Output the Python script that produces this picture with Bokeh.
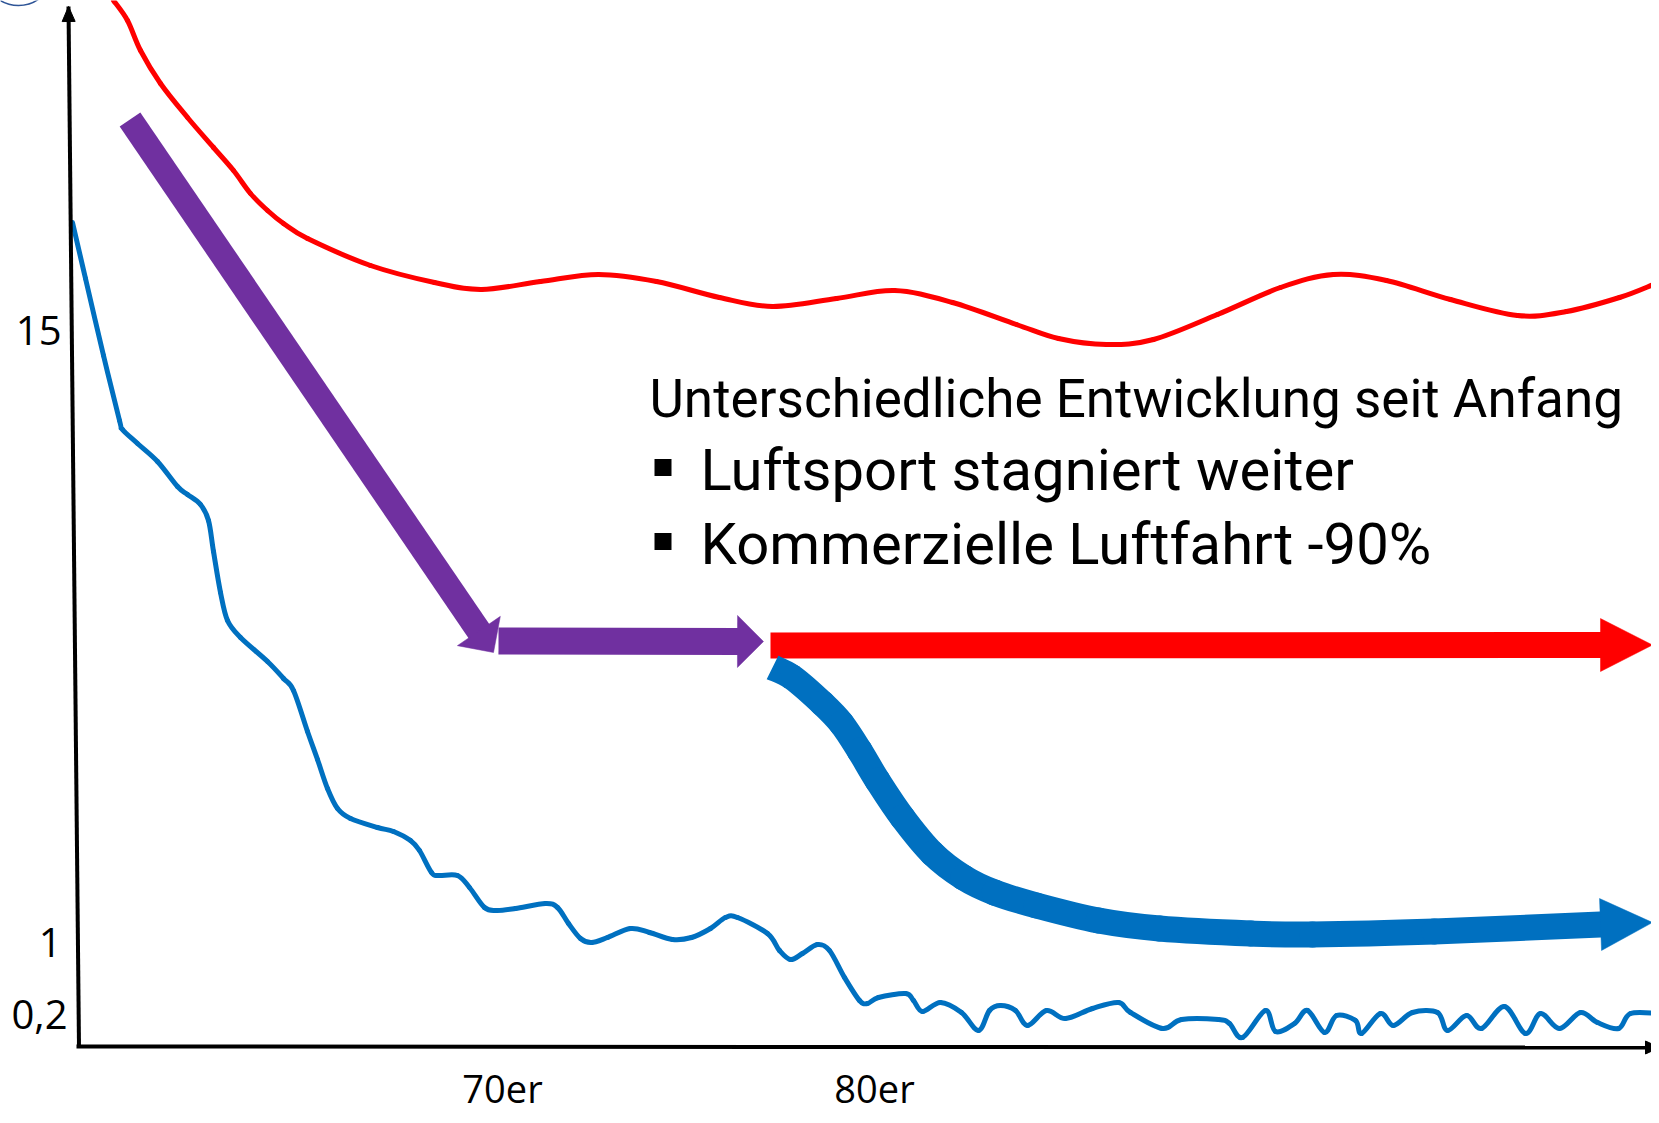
import math
from bokeh.plotting import figure
from bokeh.models import Range1d
from bokeh.core.properties import value
from bokeh.embed import file_html
from bokeh.resources import INLINE

# ---------------- data (schematic units: x to the right, y downward) ----------------
# Luftsport (thin red curve)
red_line_x = [113, 127, 140, 160, 187, 213, 233, 250, 267, 283, 307, 370, 434, 481, 540, 598,
              656, 719, 772, 836, 894, 952, 1016, 1058, 1106, 1153, 1217, 1280, 1333, 1386,
              1450, 1517, 1566, 1619, 1653]
red_line_y = [0, 20, 50, 83, 117, 147, 170, 193, 210, 223, 238, 265, 282, 289, 281, 274,
              281, 297, 306, 298, 290, 302, 324, 338, 344, 339, 314, 287, 274, 280,
              299, 315, 311, 297, 284]

# Kommerzielle Luftfahrt (thin blue curve)
blue_line_x = [72, 85, 103, 119, 122, 137, 157, 177, 187, 200, 208, 213, 220, 227, 240, 267,
               283, 293, 307, 317, 327, 337, 350, 377, 393, 410, 419, 431, 438, 457, 469,
               484, 496, 515, 545, 557, 568, 580, 591, 607, 630, 649, 672, 691, 710, 725,
               737, 767, 779, 790, 802, 817, 829, 844, 859, 867, 878, 905, 913, 922, 940,
               961, 978, 989, 1000, 1015, 1027, 1046, 1065, 1092, 1118, 1130, 1162, 1181,
               1218, 1229, 1242, 1265, 1275, 1294, 1307, 1324, 1336, 1355, 1361, 1380,
               1393, 1412, 1437, 1447, 1466, 1481, 1504, 1525, 1540, 1559, 1580, 1597,
               1618, 1630, 1658]
blue_line_y = [222, 278, 355, 420, 429, 443, 461, 486, 494, 504, 520, 551, 592, 620, 637, 661,
               678, 690, 731, 759, 788, 808, 818, 827, 831, 840, 850, 872, 875, 875, 887,
               907, 910, 908, 903, 907, 923, 938, 942, 937, 928, 932, 939, 937, 928, 917,
               917, 933, 950, 959, 953, 944, 950, 977, 1000, 1003, 997, 993, 1000, 1011, 1002,
               1012, 1030, 1010, 1005, 1010, 1025, 1010, 1018, 1008, 1002, 1012, 1028, 1019,
               1019, 1023, 1037, 1010, 1031, 1023, 1010, 1032, 1015, 1020, 1033, 1013,
               1025, 1012, 1012, 1030, 1015, 1028, 1006, 1033, 1013, 1028, 1012, 1022,
               1028, 1013, 1013]

# trend arrows
purple_drop_x = [129.5, 493]
purple_drop_y = [119, 652]
purple_flat_x = [498, 763]
purple_flat_y = [640.5, 641]
red_trend_x = [770, 1652]
red_trend_y = [645, 644.5]
blue_trend_x = [772, 792, 822, 841, 859, 877, 902, 932, 963, 994, 1036, 1098, 1159, 1250,
                1312, 1434, 1600, 1652]
blue_trend_y = [667, 677, 703, 723, 750, 780, 817, 853, 877, 892, 905, 920, 928, 933,
                934, 931, 924, 922]

# axes
y_axis_x = [78.5, 68]
y_axis_y = [1047, 6]
x_axis_x = [76, 1659]
x_axis_y = [1046, 1047]

y_tick_labels = ["15", "1", "0,2"]
y_tick_values = [330, 942, 1014]
x_tick_labels = ["70er", "80er"]
x_tick_values = [502, 874]

title_text = "Unterschiedliche Entwicklung seit Anfang"
bullet_texts = ["Luftsport stagniert weiter", "Kommerzielle Luftfahrt -90%"]

# ---------------- figure ----------------
W, H = 1651, 1115
p = figure(width=W, height=H, output_backend="svg", toolbar_location=None,
           x_range=Range1d(0, W), y_range=Range1d(H, 0),
           min_border=0, outline_line_color=None, background_fill_color="white",
           border_fill_color="white")
p.xaxis.visible = False
p.yaxis.visible = False
p.xgrid.visible = False
p.ygrid.visible = False

RED = "#FF0000"
BLUE = "#0070C0"
PURPLE = "#7030A0"


def head(tx, ty, dx, dy, length, width):
    n = math.hypot(dx, dy)
    ux, uy = dx / n, dy / n
    px, py = -uy, ux
    bx, by = tx - ux * length, ty - uy * length
    xs = [bx + px * width / 2, tx, bx - px * width / 2]
    ys = [by + py * width / 2, ty, by - py * width / 2]
    return xs, ys, bx, by


def smooth_segments(xs, ys):
    """Catmull-Rom through the read points, handed to Bokeh as cubic bezier segments."""
    n = len(xs)
    out = dict(x0=[], y0=[], x1=[], y1=[], cx0=[], cy0=[], cx1=[], cy1=[])
    for i in range(n - 1):
        a = i - 1 if i > 0 else i
        d = i + 2 if i + 2 < n else i + 1
        out["x0"].append(xs[i]); out["y0"].append(ys[i])
        out["x1"].append(xs[i + 1]); out["y1"].append(ys[i + 1])
        out["cx0"].append(xs[i] + (xs[i + 1] - xs[a]) / 6)
        out["cy0"].append(ys[i] + (ys[i + 1] - ys[a]) / 6)
        out["cx1"].append(xs[i + 1] - (xs[d] - xs[i]) / 6)
        out["cy1"].append(ys[i + 1] - (ys[d] - ys[i]) / 6)
    return out


# small circle fragment in the corner
p.circle(x=[18], y=[-30], radius=35, fill_color=None, line_color="#2F5597", line_width=1.5)

# thin curves
p.bezier(**smooth_segments(red_line_x, red_line_y), line_color=RED, line_width=5, line_cap="round")
p.bezier(**smooth_segments(blue_line_x, blue_line_y), line_color=BLUE, line_width=5, line_cap="round")

# axes
p.line(y_axis_x, y_axis_y, line_color="black", line_width=4)
hx, hy, _, _ = head(y_axis_x[1], y_axis_y[1], y_axis_x[1] - y_axis_x[0], y_axis_y[1] - y_axis_y[0], 15, 13)
p.patch(hx, hy, fill_color="black", line_color="black")
p.line(x_axis_x, x_axis_y, line_color="black", line_width=4)
hx, hy, _, _ = head(x_axis_x[1], x_axis_y[1], 1, 0, 14, 13)
p.patch(hx, hy, fill_color="black", line_color="black")


def straight_arrow(xs, ys, color, shaft_w, head_len, head_w):
    dx, dy = xs[1] - xs[0], ys[1] - ys[0]
    n = math.hypot(dx, dy)
    hxs, hys, bx, by = head(xs[1], ys[1], dx, dy, head_len, head_w)
    p.line([xs[0], bx + dx / n], [ys[0], by + dy / n],
           line_color=color, line_width=shaft_w, line_cap="butt")
    p.patch(hxs, hys, fill_color=color, line_color=color, line_width=0.5)


straight_arrow(purple_drop_x, purple_drop_y, PURPLE, 25, 26, 52)
straight_arrow(purple_flat_x, purple_flat_y, PURPLE, 27, 26, 52)
straight_arrow(red_trend_x, red_trend_y, RED, 26, 52, 53)

# blue curved trend arrow (smooth band up to the head base, then the head)
seg = smooth_segments(blue_trend_x, blue_trend_y)
first = {k: v[:1] for k, v in seg.items()}
rest = {k: v[1:-1] for k, v in seg.items()}
p.bezier(**first, line_color=BLUE, line_width=26, line_cap="butt")
p.bezier(**rest, line_color=BLUE, line_width=26, line_cap="round")
hxs, hys, _, _ = head(blue_trend_x[-1], blue_trend_y[-1],
                      blue_trend_x[-1] - blue_trend_x[-2], blue_trend_y[-1] - blue_trend_y[-2], 52, 52)
p.patch(hxs, hys, fill_color=BLUE, line_color=BLUE, line_width=0.5)

# tick labels
TICK_FONT = value("Open Sans")
p.text(x=[61, 61, 67], y=y_tick_values, text=y_tick_labels, text_font=TICK_FONT,
       text_font_size="40px", text_color="black", text_align="right",
       text_baseline="alphabetic")
p.text(x=x_tick_values, y=[1087, 1087], text=x_tick_labels, text_font=TICK_FONT,
       text_font_size="38px", text_color="black", text_align="center",
       text_baseline="alphabetic")

# annotation text
MAIN_FONT = value("Roboto")
p.text(x=[649], y=[398], text=[title_text], text_font=MAIN_FONT, text_font_size="53px",
       text_color="black", text_align="left", text_baseline="alphabetic")
p.text(x=[700, 700], y=[469, 543], text=bullet_texts, text_font=MAIN_FONT,
       text_font_size="58px", text_color="black", text_align="left", text_baseline="alphabetic")
p.rect(x=[662.5, 662.5], y=[467, 541], width=17, height=17, fill_color="black", line_color=None)

open("out.html", "w").write(file_html(p, INLINE))
